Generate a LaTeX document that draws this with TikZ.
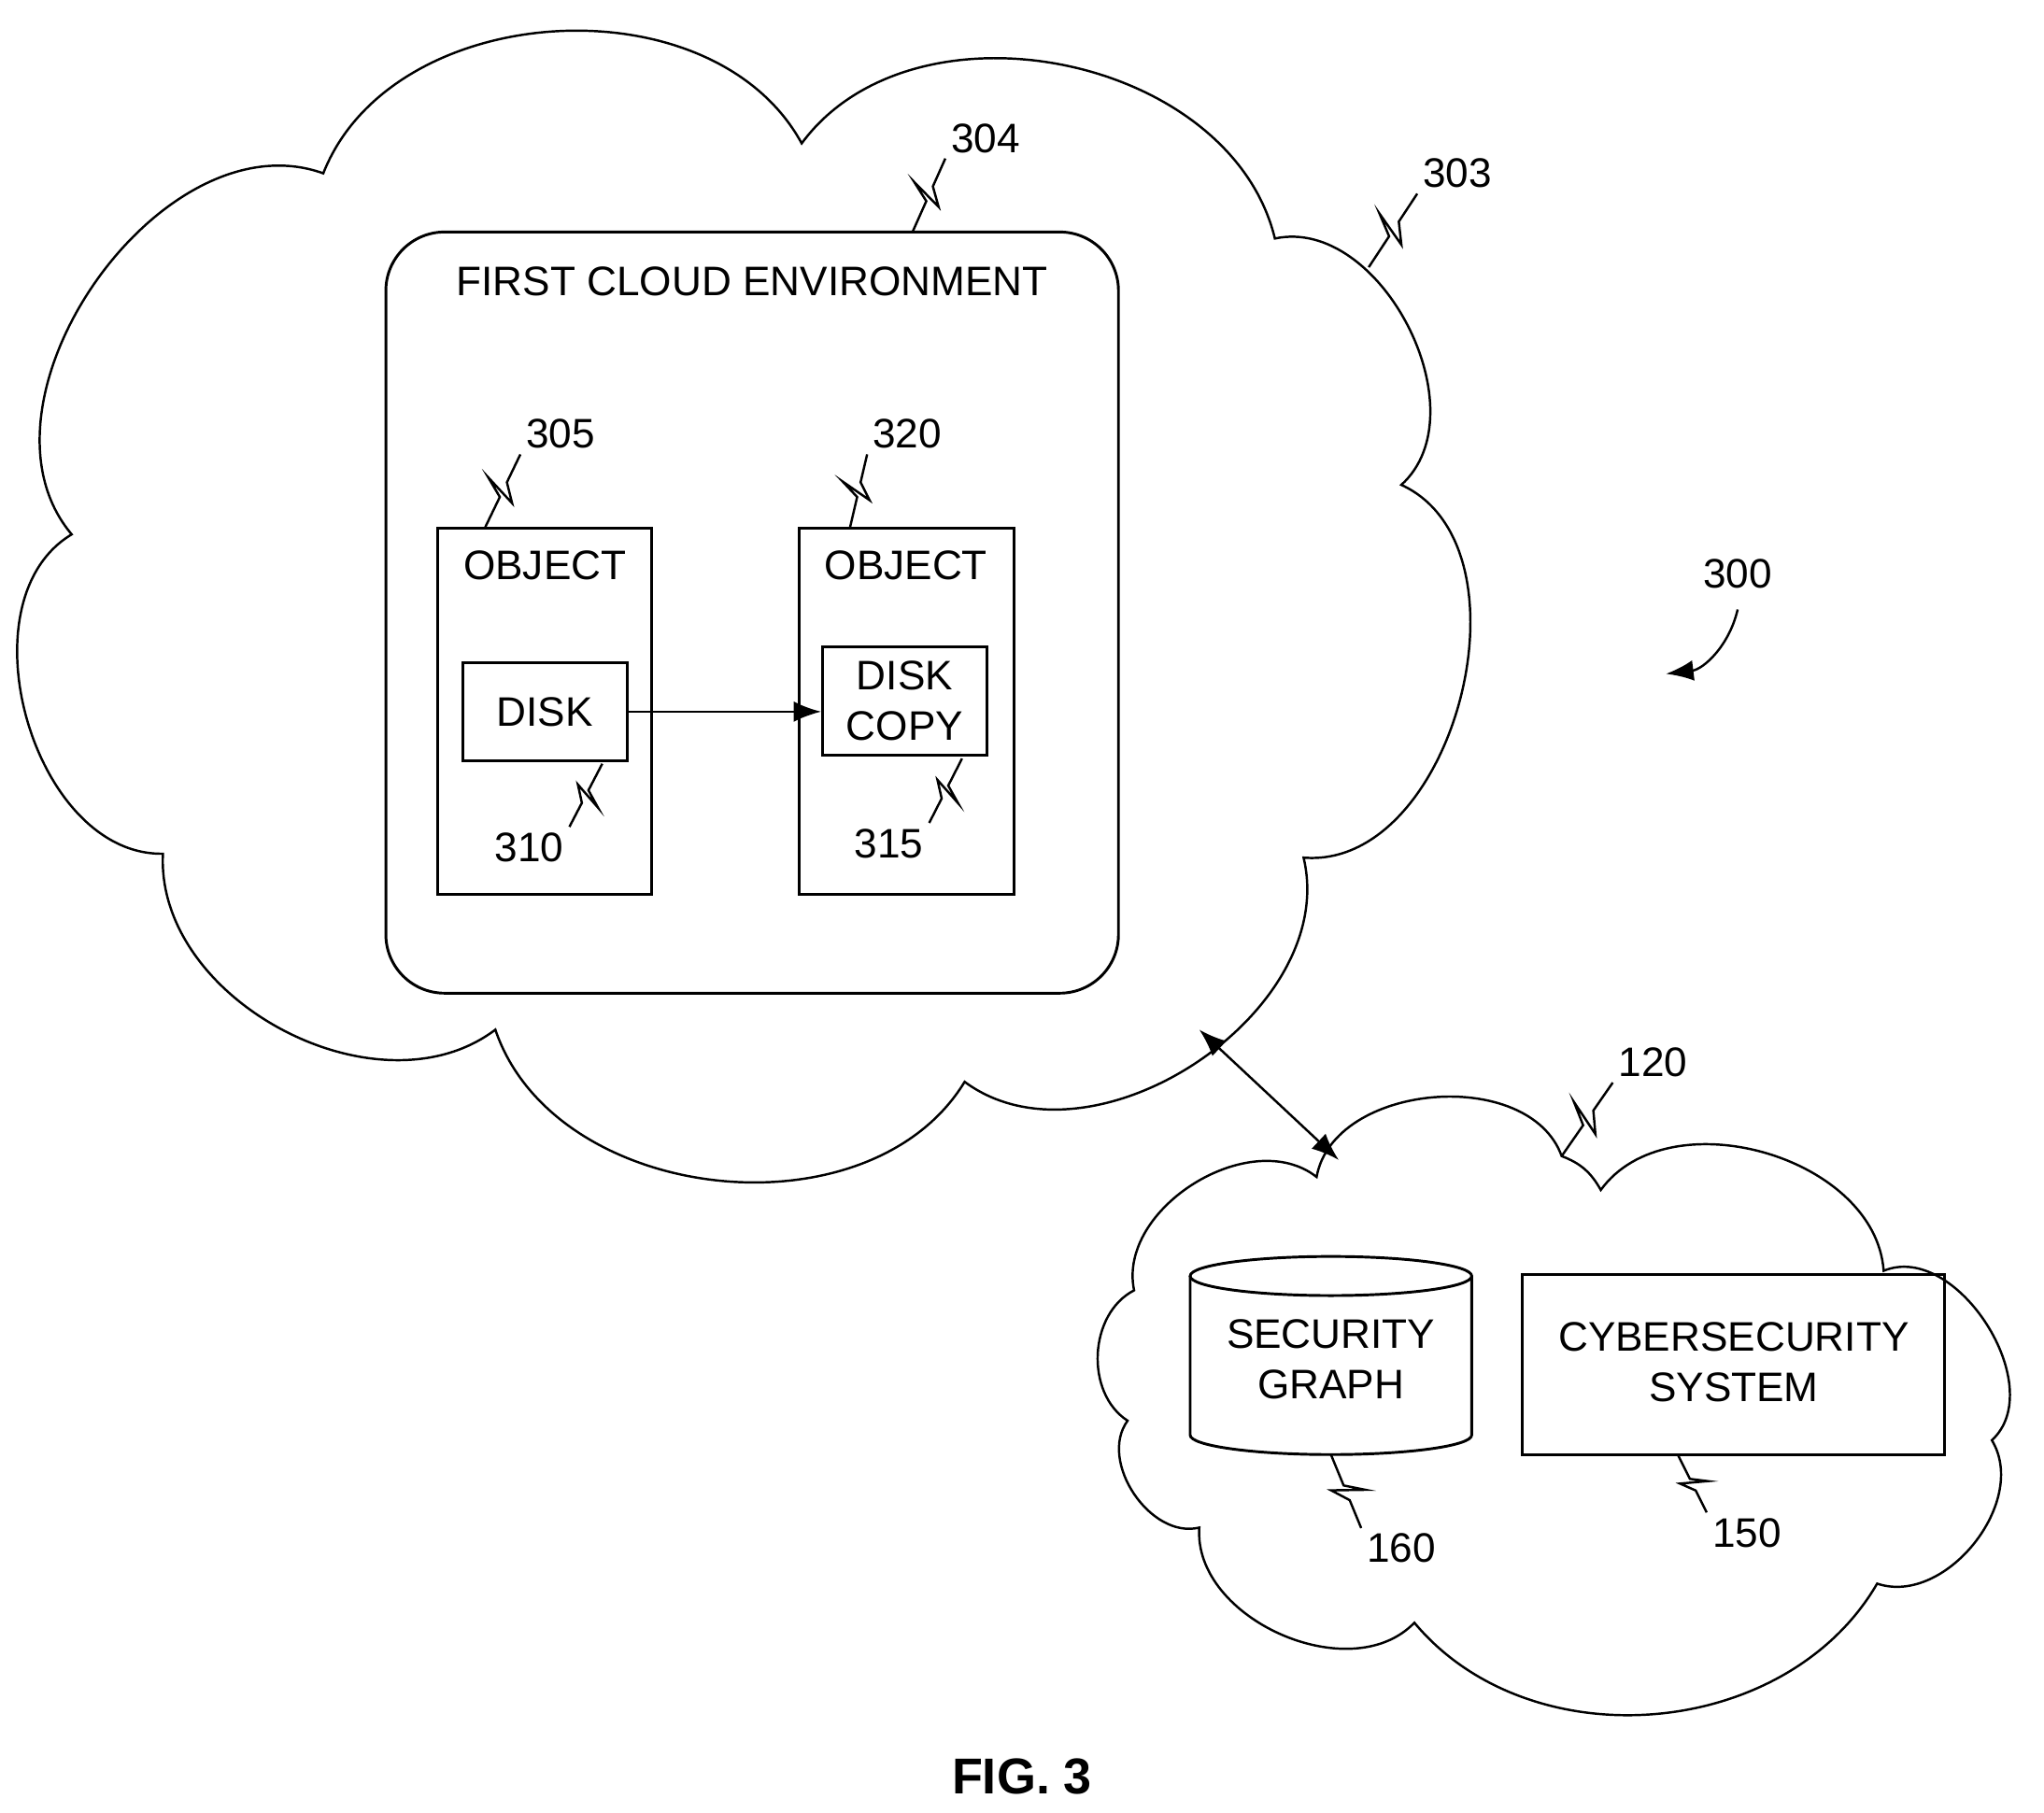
\documentclass[tikz,border=0pt]{standalone}
\usepackage{fontspec}
\setmainfont{Liberation Sans}
\usetikzlibrary{calc,shapes.geometric,arrows.meta}
\begin{document}
\begin{tikzpicture}[x=0.01cm,y=-0.01cm,line width=0.5pt,
  lbl/.style={font=\fontsize{9}{11}\selectfont,inner sep=1pt},
  box/.style={draw,line width=0.6pt,inner sep=0pt},
  txt/.style={font=\fontsize{9}{11}\selectfont,align=center}]
\useasboundingbox (0,0) rectangle (1568,1391);
\newcommand{\squig}[2]{\draw (#1) -- ($(#1)!.42!(#2)$) -- ($(#1)!.62!22:(#2)$) -- ($(#1)!.45!-22:(#2)$) -- ($(#1)!.62!(#2)$) -- (#2);}
% big cloud
\draw (55,410) to[bend left=75] (248,133) to[bend left=65] (615,110) to[bend left=65] (978,183)
  to[bend left=75] (1075,372) to[bend left=80] (1000,658) to[bend left=70] (740,830)
  to[bend left=65] (380,790) to[bend left=65] (125,655) to[bend left=75] cycle;
% small cloud
\draw (870,990) to[bend left=70] (1010,903) to[bend left=75] (1198,887) to[bend left=20] (1228,913)
  to[bend left=70] (1445,975) to[bend left=80] (1528,1105) to[bend left=70] (1440,1215)
  to[bend left=55] (1085,1245) to[bend left=70] (920,1172) to[bend left=70] (865,1090)
  to[bend left=60] cycle;
% boxes
\draw[line width=0.6pt,rounded corners=0.45cm] (296,178) rectangle (858,762);
\node[txt,anchor=north] (fce) at (577,192) {FIRST CLOUD ENVIRONMENT};
\draw[line width=0.6pt] (336,405) rectangle (500,686);
\node[txt] (o1) at (418,434) {OBJECT};
\draw[line width=0.6pt] (613,405) rectangle (778,686);
\node[txt] (o2) at (695,434) {OBJECT};
\node[box,minimum width=126*0.01cm,minimum height=75*0.01cm,txt] (disk) at (418,546) {DISK};
\node[box,minimum width=126*0.01cm,minimum height=83*0.01cm,txt] (copy) at (694,538) {DISK\\COPY};
\draw[-{Latex[length=6pt]}] (disk.east) -- (copy.west|-disk.east);
% cylinder
\draw[line width=0.6pt] (1021,979) ellipse [x radius=108*0.01cm, y radius=15*0.01cm];
\draw[line width=0.6pt] (913,979) -- (913,1101) arc[start angle=180,end angle=360,x radius=108*0.01cm,y radius=15*0.01cm] -- (1129,979);
\node[txt] (sgt) at (1021,1043) {SECURITY\\GRAPH};
\coordinate (sgb) at (1021,1116);
\node[box,minimum width=324*0.01cm,minimum height=138*0.01cm] (cs) at (1330,1047) {};
\node[txt] (cst) at (1330,1045) {CYBERSECURITY\\SYSTEM};
% link
\coordinate (c1) at (920,790); \coordinate (c2) at (1027,890);
\draw[{Latex[length=6pt]}-{Latex[length=6pt]}] (c1) -- (c2);
% labels
\node[lbl] (l304) at (756,106) {304}; \coordinate (a304) at (700,178); \squig{a304}{l304.south west}
\node[lbl] (l303) at (1118,133) {303}; \coordinate (a303) at (1050,205); \squig{a303}{l303.south west}
\node[lbl] (l305) at (430,333) {305}; \coordinate (a305) at (372,405); \squig{a305}{l305.south west}
\node[lbl] (l320) at (696,333) {320}; \coordinate (a320) at (652,405); \squig{a320}{l320.south west}
\node[lbl] (l310) at (406,650) {310}; \coordinate (a310) at (462,586); \squig{a310}{l310.north east}
\node[lbl] (l315) at (682,647) {315}; \coordinate (a315) at (738,582); \squig{a315}{l315.north east}
\node[lbl] (l120) at (1268,815) {120}; \coordinate (a120) at (1198,887); \squig{a120}{l120.south west}
\node[lbl] (l160) at (1075,1188) {160}; \squig{sgb}{l160.north west}
\node[lbl] (l150) at (1340,1176) {150}; \coordinate (a150) at (1287,1116); \squig{a150}{l150.north west}
\node[lbl] (l300) at (1333,440) {300};
\coordinate (e300) at (1278,517);
\draw[-{Latex[length=6pt]}] (l300.south) ++(0,12) to[bend left=35] (e300);
\node[font=\bfseries\fontsize{11}{13}\selectfont] (fig) at (784,1363) {FIG. 3};
\end{tikzpicture}
\end{document}
